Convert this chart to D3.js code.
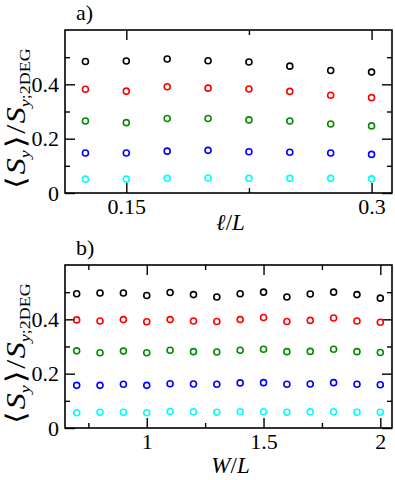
<!DOCTYPE html>
<html>
<head>
<meta charset="utf-8">
<script src="https://cdn.jsdelivr.net/npm/d3@7"></script>
<style>
  body { margin: 0; background: #fff; }
</style>
</head>
<body>
<div id="chart"></div>
<script>
// panel a) : spin vs l/L
const lenRatio = [0.125, 0.15, 0.175, 0.2, 0.225, 0.25, 0.275, 0.3];
const aBlack = [0.484, 0.486, 0.493, 0.487, 0.482, 0.467, 0.451, 0.445];
const aRed   = [0.382, 0.375, 0.391, 0.386, 0.383, 0.374, 0.360, 0.351];
const aGreen = [0.265, 0.259, 0.274, 0.274, 0.269, 0.265, 0.254, 0.247];
const aBlue  = [0.147, 0.147, 0.154, 0.157, 0.152, 0.150, 0.147, 0.142];
const aCyan  = [0.051, 0.051, 0.054, 0.055, 0.054, 0.054, 0.054, 0.052];

// panel b) : spin vs W/L
const widthRatio = [0.7, 0.8, 0.9, 1.0, 1.1, 1.2, 1.3, 1.4, 1.5, 1.6, 1.7, 1.8, 1.9, 2.0];
const bBlack = [0.494, 0.497, 0.497, 0.488, 0.499, 0.491, 0.482, 0.494, 0.500, 0.482, 0.493, 0.500, 0.491, 0.478];
const bRed   = [0.398, 0.394, 0.399, 0.391, 0.399, 0.394, 0.392, 0.399, 0.407, 0.392, 0.396, 0.405, 0.394, 0.389];
const bGreen = [0.284, 0.277, 0.283, 0.277, 0.286, 0.281, 0.280, 0.286, 0.290, 0.281, 0.282, 0.290, 0.281, 0.278];
const bBlue  = [0.157, 0.157, 0.161, 0.157, 0.163, 0.162, 0.161, 0.166, 0.167, 0.161, 0.162, 0.167, 0.161, 0.159];
const bCyan  = [0.056, 0.058, 0.058, 0.056, 0.061, 0.060, 0.058, 0.060, 0.060, 0.058, 0.060, 0.060, 0.058, 0.058];

const seriesColors = ['#000000', '#ff0000', '#008b00', '#0000ff', '#00ffff'];

const yMajor = [0, 0.2, 0.4];
const yMinor = [0.1, 0.3, 0.5];
const yLabels = ['0', '0.2', '0.4'];

const aXMajor = [0.15, 0.3];
const aXMinor = [0.225];
const aXLabels = ['0.15', '0.3'];

const bXMajor = [1, 1.5, 2];
const bXMinor = [0.75, 1.25, 1.75];
const bXLabels = ['1', '1.5', '2'];

const FONT = 'Liberation Serif';
const W = 395, H = 480;
const svg = d3.select('#chart').append('svg')
  .attr('width', W)
  .attr('height', H)
  .attr('font-family', FONT);

function drawPanel(opts){
  const left = 65, right = 392;
  const top = opts.top, bottom = opts.top + 163;

  const x = d3.scaleLinear().domain(opts.xDomain).range([left, right]);
  const y = d3.scaleLinear().domain([0, 0.6]).range([bottom, top]);

  const g = svg.append('g');

  // ticks (inward, mirrored)
  const fmt = (arr, labels) => d => labels[arr.indexOf(d)];

  g.append('g').attr('transform', `translate(0,${bottom})`)
    .call(d3.axisBottom(x).tickValues(opts.xMajor).tickSize(-10).tickPadding(5)
      .tickFormat(fmt(opts.xMajor, opts.xLabels)));
  g.append('g').attr('transform', `translate(0,${bottom})`)
    .call(d3.axisBottom(x).tickValues(opts.xMinor).tickSize(-5).tickFormat(''));
  g.append('g').attr('transform', `translate(0,${top})`)
    .call(d3.axisTop(x).tickValues(opts.xMajor).tickSize(-10).tickFormat(''));
  g.append('g').attr('transform', `translate(0,${top})`)
    .call(d3.axisTop(x).tickValues(opts.xMinor).tickSize(-5).tickFormat(''));

  g.append('g').attr('transform', `translate(${left},0)`)
    .call(d3.axisLeft(y).tickValues(yMajor).tickSize(-10).tickPadding(6)
      .tickFormat(fmt(yMajor, yLabels)));
  g.append('g').attr('transform', `translate(${left},0)`)
    .call(d3.axisLeft(y).tickValues(yMinor).tickSize(-5).tickFormat(''));
  g.append('g').attr('transform', `translate(${right},0)`)
    .call(d3.axisRight(y).tickValues(yMajor).tickSize(-10).tickFormat(''));
  g.append('g').attr('transform', `translate(${right},0)`)
    .call(d3.axisRight(y).tickValues(yMinor).tickSize(-5).tickFormat(''));

  g.selectAll('.domain').remove();
  g.selectAll('g').attr('font-family', FONT).attr('font-size', 22);
  g.selectAll('.tick line').attr('stroke', '#000').attr('stroke-width', 1.4);
  g.selectAll('.tick text')
    .attr('font-family', FONT)
    .attr('font-size', 22)
    .attr('fill', '#000');

  // frame
  g.append('rect')
    .attr('x', left).attr('y', top)
    .attr('width', right - left).attr('height', bottom - top)
    .attr('fill', 'none').attr('stroke', '#000').attr('stroke-width', 1.6);

  // points
  opts.series.forEach((vals, i) => {
    g.append('g').selectAll('circle')
      .data(vals)
      .join('circle')
      .attr('cx', (d, j) => x(opts.xs[j]))
      .attr('cy', d => y(d))
      .attr('r', 3)
      .attr('fill', 'none')
      .attr('stroke', seriesColors[i])
      .attr('stroke-width', 1.6);
  });

  // panel letter
  g.append('text')
    .attr('x', 76).attr('y', top - 10)
    .attr('font-family', FONT)
    .attr('font-size', 22)
    .text(opts.letter);

  // y label  <S_y>/S_{y;2DEG}, stretched along its length like the TeX original
  const yl = g.append('text')
    .attr('transform', `translate(25,${(top + bottom) / 2 + 7}) rotate(-90) scale(1.2,1)`)
    .attr('text-anchor', 'middle')
    .attr('font-family', FONT)
    .attr('font-size', 27);
  yl.append('tspan').text('\u27E8');
  yl.append('tspan').attr('font-style', 'italic').attr('dx', 1).text('S');
  yl.append('tspan').attr('font-style', 'italic').attr('font-size', 15).attr('dy', 5).text('y');
  yl.append('tspan').attr('dy', -5).attr('dx', 2).text('\u27E9');
  yl.append('tspan').attr('dx', 1).text('/');
  yl.append('tspan').attr('font-style', 'italic').attr('dx', 1).text('S');
  yl.append('tspan').attr('font-style', 'italic').attr('font-size', 15).attr('dy', 5).text('y');
  yl.append('tspan').attr('font-size', 15).text(';2DEG');

  // x label
  const xl = g.append('text')
    .attr('x', (left + right) / 2 + 2)
    .attr('y', bottom + opts.xLabelOffset)
    .attr('text-anchor', 'middle')
    .attr('font-family', FONT)
    .attr('font-size', 23);
  opts.xTitle.forEach(p => {
    xl.append('tspan').attr('font-style', p.italic ? 'italic' : 'normal').text(p.t);
  });
}

drawPanel({
  top: 30,
  xDomain: [0.1125, 0.3125],
  xMajor: aXMajor, xMinor: aXMinor, xLabels: aXLabels,
  xs: lenRatio,
  series: [aBlack, aRed, aGreen, aBlue, aCyan],
  letter: 'a)',
  xTitle: [{t: '\u2113', italic: true}, {t: '/', italic: false}, {t: 'L', italic: true}],
  xLabelOffset: 37
});

drawPanel({
  top: 265,
  xDomain: [0.65, 2.05],
  xMajor: bXMajor, xMinor: bXMinor, xLabels: bXLabels,
  xs: widthRatio,
  series: [bBlack, bRed, bGreen, bBlue, bCyan],
  letter: 'b)',
  xTitle: [{t: 'W', italic: true}, {t: '/', italic: false}, {t: 'L', italic: true}],
  xLabelOffset: 45
});
</script>
</body>
</html>
